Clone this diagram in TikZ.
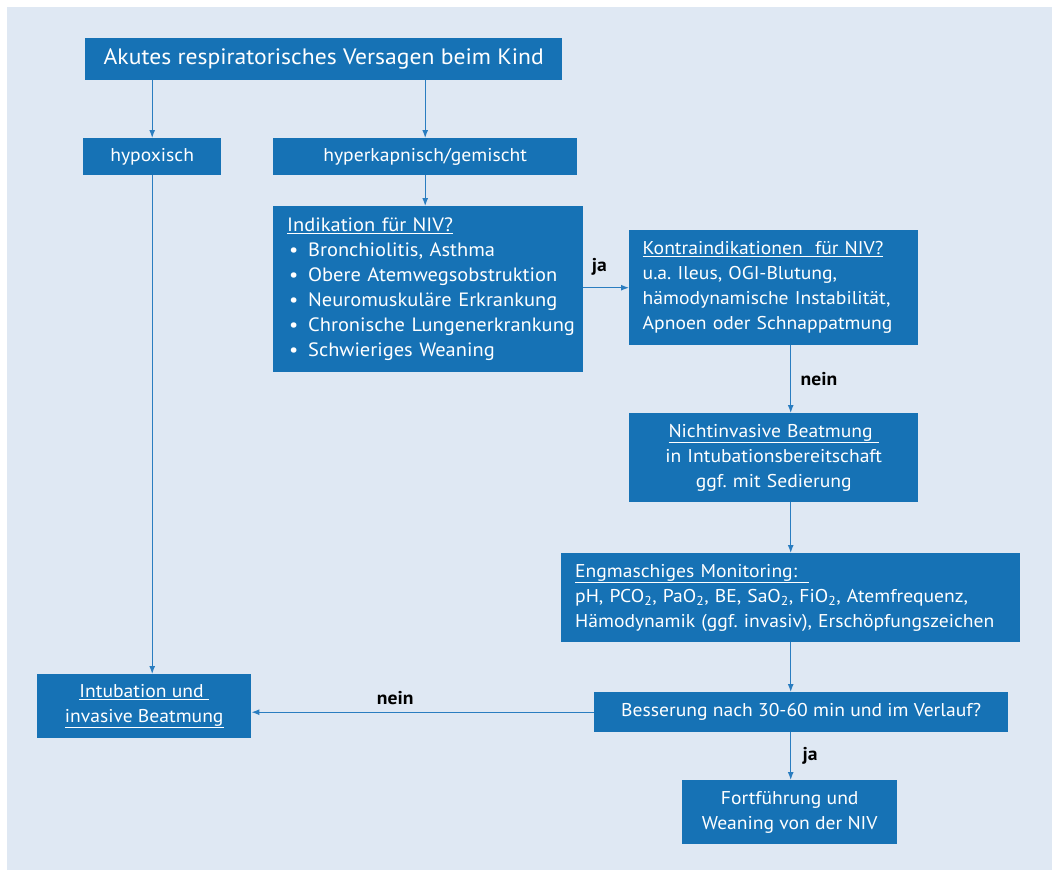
\documentclass[tikz,border=0pt]{standalone}
\usepackage{fontspec}
\setmainfont[FakeStretch=1.06]{PT Sans}
\usetikzlibrary{arrows.meta}
\definecolor{boxblue}{HTML}{1672B5}
\definecolor{bgblue}{HTML}{DFE8F3}
\definecolor{lineblue}{HTML}{2A7DC0}
\newcommand{\bodyfont}{\fontsize{18.5}{25}\selectfont\frenchspacing}
\newcommand{\bul}{\makebox[21pt][l]{\hspace{2pt}•}}
\newcommand{\iline}[1]{\mbox{\hspace*{7pt}#1}}
\tikzset{
  box/.style={fill=boxblue, text=white, inner sep=0pt, anchor=north west, font=\bodyfont},
  lbox/.style={box, align=left, inner xsep=14pt},
  cbox/.style={box, align=center},
  conn/.style={draw=lineblue, line width=1.2pt, -{Latex[length=8pt,width=6pt]}},
  lab/.style={font=\bodyfont\bfseries, text=black}
}
\begin{document}
\begin{tikzpicture}[x=1pt,y=-1pt]
\useasboundingbox (0,0) rectangle (1052,870);
\fill[white] (0,0) rectangle (1052,870);
\fill[bgblue] (7,7) rectangle (1052,870);

\node[cbox, minimum width=477pt, minimum height=42pt, font=\fontsize{22.3}{28}\selectfont] (title) at (85,38) {Akutes respiratorisches Versagen beim Kind};
\node[cbox, minimum width=138pt, minimum height=37pt] (hypo) at (83,138) {hypoxisch};
\node[cbox, minimum width=304pt, minimum height=37pt] (hyper) at (273,138) {hyperkapnisch/gemischt};
\node[lbox, minimum width=310pt, minimum height=166pt, text width=296pt, inner xsep=7pt, font=\fontsize{19.3}{25}\selectfont] (indik) at (273,206) {%
\iline{\underline{Indikation für NIV?}}\\
\iline{\bul Bronchiolitis, Asthma}\\
\iline{\bul Obere Atemwegsobstruktion}\\
\iline{\bul Neuromuskuläre Erkrankung}\\
\iline{\bul Chronische Lungenerkrankung}\\
\iline{\bul Schwieriges Weaning}};
\node[lbox, minimum width=289pt, minimum height=115pt, text width=262pt, inner xsep=13pt] (kontra) at (629,230) {%
\underline{Kontraindikationen\ \ für NIV?}\\
u.a. Ileus, OGI-Blutung,\\
hämodynamische Instabilität,\\
Apnoen oder Schnappatmung};
\node[cbox, minimum width=289pt, minimum height=89pt, text width=289pt] (niv) at (629,413) {%
\underline{Nichtinvasive Beatmung\ }\\
in Intubationsbereitschaft\\
ggf. mit Sedierung};
\node[lbox, minimum width=459pt, minimum height=89pt, text width=431pt] (mon) at (561,553) {%
\underline{Engmaschiges Monitoring:\ \ }\\
pH, PCO\textsubscript{2}, PaO\textsubscript{2}, BE, SaO\textsubscript{2}, FiO\textsubscript{2}, Atemfrequenz,\\
Hämodynamik (ggf. invasiv), Erschöpfungszeichen};
\node[cbox, minimum width=414pt, minimum height=40pt] (bess) at (594,692) {Besserung nach 30-60 min und im Verlauf?};
\node[cbox, minimum width=215pt, minimum height=64pt] (fort) at (682,780) {Fortführung und\\Weaning von der NIV};
\node[cbox, minimum width=214pt, minimum height=64pt] (intub) at (37,674) {\underline{Intubation und\ }\\\underline{invasive Beatmung}};

\draw[conn] (title.south -| hypo.north) -- (hypo.north);
\draw[conn] (title.south -| hyper.north) -- (hyper.north);
\draw[conn] (hyper.south) -- (hyper.south |- indik.north);
\draw[conn] (kontra.west -| indik.east) -- node[lab, above=8pt, pos=0.35] (ja1) {ja} (kontra.west);
\draw[conn] (kontra.south -| mon.north) -- node[lab, right=6pt] (nein1) {nein} (niv.north -| mon.north);
\draw[conn] (niv.south -| mon.north) -- (mon.north);
\draw[conn] (mon.south) -- (bess.north -| mon.south);
\draw[conn] (bess.south -| mon.south) -- node[lab, right=8pt] (ja2) {ja} (fort.north -| mon.south);
\draw[conn] (hypo.south) -- (hypo.south |- intub.north);
\draw[conn] (bess.west) -- node[lab, above=4pt, pos=0.58] (nein2) {nein} (bess.west -| intub.east);
\end{tikzpicture}
\end{document}
